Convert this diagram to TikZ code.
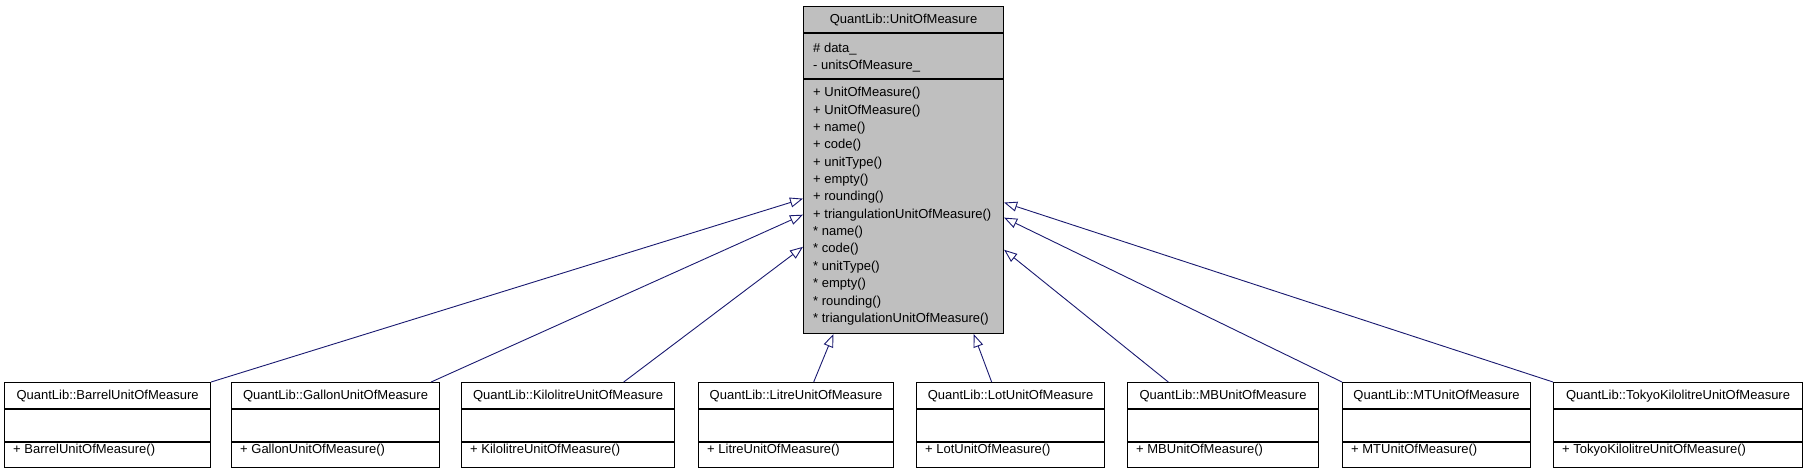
\documentclass[tikz,border=0pt]{standalone}
\usepackage{fontspec}
\setmainfont{Liberation Sans}
\usepackage{xcolor}
\usetikzlibrary{positioning,arrows.meta,calc}
\definecolor{cEdge}{HTML}{191970}
\definecolor{cBase}{HTML}{BFBFBF}

\tikzset{
  cls/.style={draw=black,line width=1.1pt,inner sep=0pt,anchor=north west},
  txt/.style={inner sep=0pt,font=\fontsize{13}{15}\selectfont},
  inherit/.style={draw=cEdge,line width=0.9pt,-{Triangle[open,length=13pt,width=10pt,fill=white]}}
}

\begin{document}
\begin{tikzpicture}[x=1pt,y=-1pt]
  \useasboundingbox (0,0) rectangle (1808,472);
  \node[cls,fill=cBase,minimum width=200pt,minimum height=327pt] (base) at (803,6) {};
  \draw[line width=1.1pt] (803,33) -- (1003,33) (803,79) -- (1003,79);
  \node[txt,anchor=base] (base-head) at ($(base.north)+(0,17)$) {QuantLib::UnitOfMeasure};
  \foreach \a [count=\i] in {\# data\_,- unitsOfMeasure\_}
    {\node[txt,anchor=base west] (a\i) at (813,35+17*\i) {\a};}
  \foreach \m [count=\i from 0] in {+ UnitOfMeasure(),+ UnitOfMeasure(),+ name(),+ code(),+ unitType(),+ empty(),+ rounding(),+ triangulationUnitOfMeasure(),* name(),* code(),* unitType(),* empty(),* rounding(),* triangulationUnitOfMeasure()}
    {\node[txt,anchor=base west] (m\i) at (813,96.7+17.36*\i) {\m};}

  \foreach \nm/\xl/\bw in {Barrel/4/206,Gallon/231/208,Kilolitre/461/213,Litre/698/195,Lot/916/188,MB/1127/191,MT/1342/188,TokyoKilolitre/1553/249}
    {
      \node[cls,minimum width=\bw*1pt,minimum height=85pt] (\nm) at (\xl,382) {};
      \draw[line width=1.1pt] (\xl,409) -- (\xl+\bw,409) (\xl,442) -- (\xl+\bw,442);
      \node[txt,anchor=base] (\nm-head) at ($(\nm.north)+(0,17)$) {QuantLib::\nm UnitOfMeasure};
      \node[txt,anchor=base west] (\nm-op) at (\xl+9,453.5) {+ \nm UnitOfMeasure()};
    }

  \foreach \nm/\s/\t in {Barrel/1/0.587,Gallon/0.957/0.636,Kilolitre/0.76/0.734}
    {\draw[inherit] ($(\nm.north west)!\s!(\nm.north east)$) -- ($(base.north west)!\t!(base.south west)$);}
  \foreach \nm/\s/\t in {Litre/0.59/0.151,Lot/0.40/0.849}
    {\draw[inherit] ($(\nm.north west)!\s!(\nm.north east)$) -- ($(base.south west)!\t!(base.south east)$);}
  \foreach \nm/\s/\t in {MB/0.215/0.743,MT/0/0.645,TokyoKilolitre/0/0.599}
    {\draw[inherit] ($(\nm.north west)!\s!(\nm.north east)$) -- ($(base.north east)!\t!(base.south east)$);}
\end{tikzpicture}
\end{document}
